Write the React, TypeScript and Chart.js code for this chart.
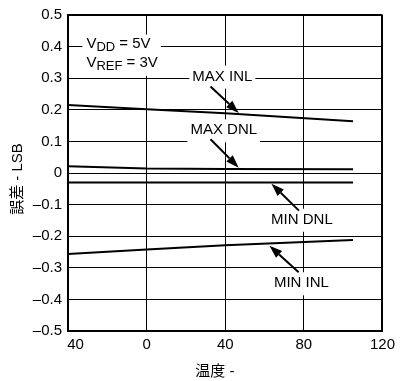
import React, { useEffect, useRef } from 'react';
import { Chart, registerables } from 'chart.js';

Chart.register(...registerables);

// ---- data ----
const temps = [-40, 0, 40, 105];
const maxInl = [0.215, 0.202, 0.189, 0.164];
const maxDnl = [0.021, 0.014, 0.013, 0.012];
const minDnl = [-0.03, -0.03, -0.03, -0.03];
const minInl = [-0.256, -0.242, -0.229, -0.212];

const xTickValues = [-40, 0, 40, 80, 120];
const xTickLabels = ['\u200340', '0', '40', '80', '120'];
const yTickValues = [-0.5, -0.4, -0.3, -0.2, -0.1, 0, 0.1, 0.2, 0.3, 0.4, 0.5];
const yTickLabels = ['–0.5', '–0.4', '–0.3', '–0.2', '–0.1', '0', '0.1', '0.2', '0.3', '0.4', '0.5'];

const seriesNames = ['MAX INL', 'MAX DNL', 'MIN DNL', 'MIN INL'];
const seriesValues = [maxInl, maxDnl, minDnl, minInl];

const xTitle = '温度 -';
const yTitle = '誤差 - LSB';

// annotation placement (data units)
const labelPos = [[38.5, 0.305], [39.25, 0.135], [79, -0.148], [78.75, -0.349]];
const arrowFrom = [[32.5, 0.274], [32.5, 0.107], [77.5, -0.119], [77.35, -0.314]];
const arrowTo = [[46.85, 0.19], [46.85, 0.017], [63.5, -0.034], [62.5, -0.23]];
const condMain = ['V', 'V'];
const condSub = ['DD', 'REF'];
const condRest = [' = 5V', ' = 3V'];
const condPos = [[-30.65, 0.394], [-30.65, 0.336]];

const FAMILY = '"Liberation Sans", Arial, "Noto Sans CJK JP", sans-serif';
const F15 = `15px ${FAMILY}`;
const F13 = `13px ${FAMILY}`;

function drawArrow(ctx: CanvasRenderingContext2D, x1: number, y1: number, x2: number, y2: number) {
  const ang = Math.atan2(y2 - y1, x2 - x1);
  const head = 13;
  const half = 4.5;
  const bx = x2 - head * Math.cos(ang);
  const by = y2 - head * Math.sin(ang);
  ctx.beginPath();
  ctx.moveTo(x1, y1);
  ctx.lineTo(bx, by);
  ctx.lineWidth = 2;
  ctx.strokeStyle = '#000';
  ctx.stroke();
  ctx.beginPath();
  ctx.moveTo(x2, y2);
  ctx.lineTo(bx + half * Math.sin(ang), by - half * Math.cos(ang));
  ctx.lineTo(bx - half * Math.sin(ang), by + half * Math.cos(ang));
  ctx.closePath();
  ctx.fillStyle = '#000';
  ctx.fill();
}

function condWidth(ctx: CanvasRenderingContext2D, i: number) {
  ctx.font = F15;
  let w = ctx.measureText(condMain[i]).width + ctx.measureText(condRest[i]).width;
  ctx.font = F13;
  w += ctx.measureText(condSub[i]).width;
  return w;
}

const annotPlugin = {
  id: 'annot',
  beforeDatasetsDraw(chart: any) {
    const { ctx, scales } = chart;
    const xs = scales.x, ys = scales.y;
    ctx.save();
    ctx.fillStyle = '#fff';
    ctx.font = F15;
    seriesNames.forEach((name, i) => {
      const w = ctx.measureText(name).width;
      const cx = xs.getPixelForValue(labelPos[i][0]);
      const cy = ys.getPixelForValue(labelPos[i][1]);
      ctx.fillRect(cx - w / 2 - 3, cy - 11, w + 6, 23);
    });
    const lx = xs.getPixelForValue(condPos[0][0]);
    const top = ys.getPixelForValue(condPos[0][1]) - 14;
    const bottom = ys.getPixelForValue(condPos[1][1]) + 9;
    const w = Math.max(condWidth(ctx, 0), condWidth(ctx, 1));
    ctx.fillStyle = '#fff';
    ctx.fillRect(lx - 4, top, w + 7, bottom - top);
    ctx.restore();
  },
  afterDatasetsDraw(chart: any) {
    const { ctx, scales } = chart;
    const xs = scales.x, ys = scales.y;
    ctx.save();
    ctx.fillStyle = '#000';
    ctx.font = F15;
    ctx.textAlign = 'center';
    ctx.textBaseline = 'middle';
    seriesNames.forEach((name, i) => {
      ctx.fillStyle = '#000';
      ctx.font = F15;
      ctx.textAlign = 'center';
      ctx.textBaseline = 'middle';
      ctx.fillText(name, xs.getPixelForValue(labelPos[i][0]), ys.getPixelForValue(labelPos[i][1]));
      drawArrow(
        ctx,
        xs.getPixelForValue(arrowFrom[i][0]), ys.getPixelForValue(arrowFrom[i][1]),
        xs.getPixelForValue(arrowTo[i][0]), ys.getPixelForValue(arrowTo[i][1])
      );
    });
    ctx.textAlign = 'left';
    ctx.textBaseline = 'alphabetic';
    ctx.fillStyle = '#000';
    condMain.forEach((m, i) => {
      let px = xs.getPixelForValue(condPos[i][0]);
      const py = ys.getPixelForValue(condPos[i][1]);
      ctx.font = F15;
      ctx.fillText(m, px, py);
      px += ctx.measureText(m).width;
      ctx.font = F13;
      ctx.fillText(condSub[i], px, py + 3);
      px += ctx.measureText(condSub[i]).width;
      ctx.font = F15;
      ctx.fillText(condRest[i], px, py);
    });
    ctx.restore();
  },
  afterDraw(chart: any) {
    const { ctx, chartArea } = chart;
    ctx.save();
    ctx.fillStyle = '#000';
    ctx.font = F15;
    ctx.textAlign = 'center';
    ctx.textBaseline = 'middle';
    ctx.fillText(xTitle, chartArea.left + (chartArea.right - chartArea.left) * 0.467, 372);
    ctx.translate(18, (chartArea.top + chartArea.bottom) / 2 + 6);
    ctx.rotate(-Math.PI / 2);
    ctx.fillText(yTitle, 0, 0);
    ctx.restore();
  },
};

export default function App() {
  const ref = useRef<HTMLCanvasElement>(null);
  useEffect(() => {
    if (!ref.current) return;
    Chart.defaults.font.family = FAMILY;
    Chart.defaults.font.size = 15;
    Chart.defaults.color = '#000';
    const chart = new Chart(ref.current, {
      type: 'line',
      data: {
        datasets: seriesValues.map((vals, i) => ({
          label: seriesNames[i],
          data: temps.map((t, j) => ({ x: t, y: vals[j] })),
          borderColor: '#000',
          borderWidth: 2,
          pointRadius: 0,
          tension: 0,
          fill: false,
        })),
      },
      options: {
        responsive: false,
        animation: false,
        layout: { padding: { top: 13, right: 13, left: 0, bottom: 0 } },
        plugins: { legend: { display: false }, tooltip: { enabled: false } },
        scales: {
          x: {
            type: 'linear',
            min: -40,
            max: 120,
            afterBuildTicks: (s: any) => { s.ticks = xTickValues.map((v) => ({ value: v })); },
            afterFit: (s: any) => { s.height = 50; },
            ticks: {
              padding: 5,
              maxRotation: 0,
              autoSkip: false,
              font: { size: 15, family: FAMILY },
              color: '#000',
              callback: (v: any) => {
                const i = xTickValues.findIndex((t) => Math.abs(t - Number(v)) < 1e-6);
                return i >= 0 ? xTickLabels[i] : '';
              },
            },
            grid: {
              color: '#000',
              lineWidth: (c: any) => (c.tick && c.tick.value === 120 ? 2 : 1),
              drawTicks: false,
            },
            border: { display: true, color: '#000', width: 2 },
          },
          y: {
            type: 'linear',
            min: -0.5,
            max: 0.5,
            afterBuildTicks: (s: any) => { s.ticks = yTickValues.map((v) => ({ value: v })); },
            afterFit: (s: any) => { s.width = 68; },
            ticks: {
              padding: 6,
              autoSkip: false,
              font: { size: 15, family: FAMILY },
              color: '#000',
              callback: (v: any) => {
                const i = yTickValues.findIndex((t) => Math.abs(t - Number(v)) < 1e-6);
                return i >= 0 ? yTickLabels[i] : '';
              },
            },
            grid: {
              color: '#000',
              lineWidth: (c: any) => (c.tick && Math.abs(c.tick.value - 0.5) < 1e-6 ? 2 : 1),
              drawTicks: false,
            },
            border: { display: true, color: '#000', width: 2 },
          },
        },
      },
      plugins: [annotPlugin],
    });
    return () => chart.destroy();
  }, []);
  return (
    <div style={{ position: 'absolute', left: 0, top: 0, width: 400, height: 381, background: '#fff' }}>
      <canvas ref={ref} width={400} height={381} style={{ display: 'block' }} />
    </div>
  );
}
